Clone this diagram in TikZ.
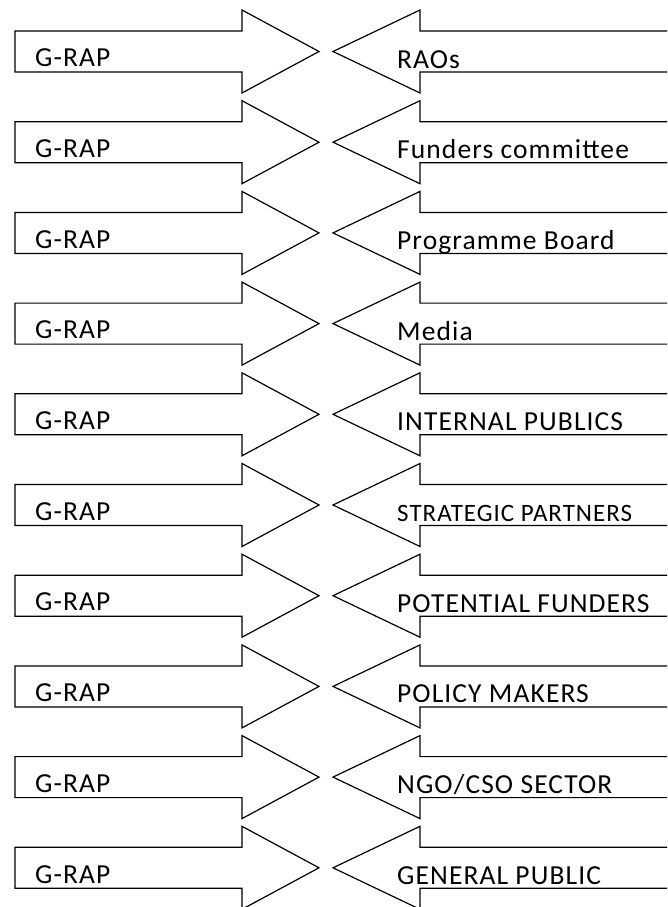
\documentclass[tikz,border=0pt]{standalone}
\usepackage{fontspec}
\setmainfont{Carlito}
\newfontfamily\lblfont[LetterSpace=4]{Carlito}
\tikzset{
  flow/.style={draw=black, line width=1.2pt, line join=miter},
  lbl/.style={anchor=base west, inner sep=0pt, font=\lblfont\fontsize{27.5}{30}\selectfont},
}
\begin{document}
\begin{tikzpicture}[x=1pt, y=1pt]
% Frame
\useasboundingbox (0,0) rectangle (667,-907);
\clip (0,0) rectangle (667,-907);
% One row per audience: G-RAP arrow in, audience arrow back
\foreach \i/\who in {
  0/{RAOs},
  1/{Funders committee},
  2/{Programme Board},
  3/{Media},
  4/{INTERNAL PUBLICS},
  5/{\fontsize{25}{28}\selectfont STRATEGIC PARTNERS},
  6/{POTENTIAL FUNDERS},
  7/{POLICY MAKERS},
  8/{NGO/CSO SECTOR},
  9/{GENERAL PUBLIC}
} {
  \begin{scope}[yshift={-90.7pt*\i}]
    % right-pointing arrow
    \draw[flow] (242,-31) -- (15,-31) -- (15,-72) -- (242,-72)
      -- (242,-93) -- (319,-51.5) -- (242,-10) -- cycle;
    % left-pointing arrow, runs off the right edge
    \draw[flow] (675,-31) -- (420,-31) -- (420,-10) -- (333,-51.5)
      -- (420,-93) -- (420,-72) -- (675,-72);
    \node[lbl] (grap\i) at (35,-66.7) {G-RAP};
    \node[lbl] (aud\i) at (397,-68) {\who};
  \end{scope}
}
\end{tikzpicture}
\end{document}
